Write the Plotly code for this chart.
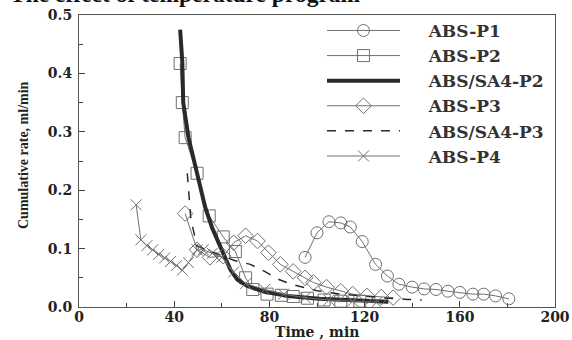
import plotly.graph_objects as go

# ---- data ----
p1_t = [95, 100, 105, 110, 114, 119, 124.6, 129.6, 134.4, 140, 145, 150, 155, 160, 165.5, 170, 175, 180.6]
p1_v = [0.085, 0.127, 0.146, 0.144, 0.137, 0.112, 0.073, 0.053, 0.039, 0.034, 0.031, 0.030, 0.027, 0.025, 0.022, 0.022, 0.019, 0.014]

p2_t = [42.5, 43.4, 44.6, 49.6, 54.7, 60.6, 65.7, 70, 73, 79, 85, 90, 96, 103, 110, 118]
p2_v = [0.417, 0.35, 0.29, 0.229, 0.156, 0.12, 0.095, 0.05, 0.03, 0.022, 0.02, 0.018, 0.015, 0.012, 0.01, 0.01]

sa2_t = [42.5, 43.4, 43.8, 46, 49.6, 53, 56, 59, 61, 63.6, 66.5, 70.7, 77.5, 87.6, 101, 115, 130]
sa2_v = [0.475, 0.42, 0.35, 0.29, 0.229, 0.171, 0.135, 0.108, 0.09, 0.064, 0.047, 0.036, 0.027, 0.019, 0.014, 0.011, 0.009]

p3_t = [44.6, 49.6, 55, 60.6, 65, 70, 75, 79.6, 84.6, 90, 95, 98.5, 104, 110, 115, 121, 127, 132]
p3_v = [0.16, 0.098, 0.085, 0.087, 0.11, 0.122, 0.113, 0.093, 0.073, 0.061, 0.05, 0.042, 0.034, 0.027, 0.022, 0.019, 0.017, 0.016]

sa3_t = [45.5, 47, 49.6, 55, 60, 65, 72, 78, 84, 90, 100, 110, 120, 130, 138, 144]
sa3_v = [0.229, 0.15, 0.104, 0.095, 0.088, 0.08, 0.073, 0.061, 0.047, 0.038, 0.028, 0.022, 0.018, 0.015, 0.013, 0.012]

p4_t = [24, 26, 28.5, 31, 33.5, 36, 38.5, 41, 43.4, 46, 49.6, 52.2, 56, 60, 65, 70, 78, 86, 95, 105, 115, 125]
p4_v = [0.175, 0.115, 0.105, 0.098, 0.09, 0.084, 0.078, 0.071, 0.063, 0.076, 0.098, 0.098, 0.092, 0.085, 0.06, 0.04, 0.03, 0.022, 0.016, 0.012, 0.01, 0.008]

x_ticks = [0, 40, 80, 120, 160, 200]
y_ticks = [0.0, 0.1, 0.2, 0.3, 0.4, 0.5]
y_tick_text = ["0.0", "0.1", "0.2", "0.3", "0.4", "0.5"]

GRAY = "#707070"
DARK = "#2a2a2a"
SERIF = "Liberation Serif, Times New Roman, serif"
WIDE = "DejaVu Serif, serif"
PAD = "\u00a0" * 4

fig = go.Figure()

def add(name, t, v, symbol=None, color=GRAY, width=1, dash="solid", size=11):
    mode = "lines+markers" if symbol else "lines"
    fig.add_trace(go.Scatter(
        x=t, y=v, name=PAD + name, mode=mode,
        line=dict(color=color, width=width, dash=dash),
        marker=dict(symbol=symbol, size=size, color=GRAY,
                    line=dict(color=GRAY, width=1)) if symbol else None,
    ))

add("ABS-P1", p1_t, p1_v, symbol="circle-open", size=12)
add("ABS-P2", p2_t, p2_v, symbol="square-open", size=12)
add("ABS/SA4-P2", sa2_t, sa2_v, color=DARK, width=4)
add("ABS-P3", p3_t, p3_v, symbol="diamond-open", size=12)
add("ABS/SA4-P3", sa3_t, sa3_v, color=DARK, width=1.5, dash="dash")
add("ABS-P4", p4_t, p4_v, symbol="x-thin-open", size=11)

tick_font = dict(family=WIDE, size=14, color="#222", weight="bold")

fig.update_layout(
    width=572, height=340,
    margin=dict(l=79, r=17, t=15, b=33, autoexpand=False),
    paper_bgcolor="white", plot_bgcolor="white",
    showlegend=True,
    legend=dict(
        x=0.5105, xref="paper", y=0.962, yref="container",
        xanchor="left", yanchor="top",
        font=dict(family=WIDE, size=17, color="#333", weight="bold"),
        bgcolor="rgba(0,0,0,0)", borderwidth=0,
        itemwidth=73, maxheight=400,
    ),
    xaxis=dict(
        range=[0, 200], tickvals=x_ticks, ticktext=[str(v) for v in x_ticks],
        ticks="inside", ticklen=6, automargin=False, ticklabelstandoff=-3,
        tickcolor="#444", showline=True, linecolor="#555", linewidth=1,
        mirror=True, showgrid=False, zeroline=False,
        tickfont=tick_font,
        minor=dict(dtick=20, ticks="inside", ticklen=4, tickcolor="#444"),
    ),
    yaxis=dict(
        range=[0, 0.5], tickvals=y_ticks, ticktext=y_tick_text,
        ticks="inside", ticklen=6, automargin=False, ticklabelstandoff=3,
        tickcolor="#444", showline=True, linecolor="#555", linewidth=1,
        mirror=True, showgrid=False, zeroline=False,
        tickfont=tick_font,
        minor=dict(dtick=0.05, ticks="inside", ticklen=4, tickcolor="#444"),
    ),
)

# axis titles placed as annotations (kept within the tight margins)
fig.add_annotation(
    text="Time , min", xref="paper", yref="paper", x=0.5, y=0,
    xanchor="center", yanchor="middle", yshift=-25, showarrow=False,
    font=dict(family=WIDE, size=14, color="#222", weight="bold"),
)
fig.add_annotation(
    text="Cumulative rate, ml/min", xref="paper", yref="paper", x=0, y=0.5,
    xanchor="center", yanchor="middle", xshift=-56, yshift=6, textangle=-90, showarrow=False,
    font=dict(family=SERIF, size=14, color="#222", weight="bold"),
)

fig.add_annotation(
    text="The effect of temperature program",
    xref="paper", yref="paper", x=-0.149, y=1.0, xanchor="left", yanchor="bottom",
    yshift=6, showarrow=False,
    font=dict(family=SERIF, size=23.5, color="#111", weight="bold"),
)

fig.write_html("out.html", config={"displayModeBar": False},
               post_script="document.body.style.margin='0px';")
